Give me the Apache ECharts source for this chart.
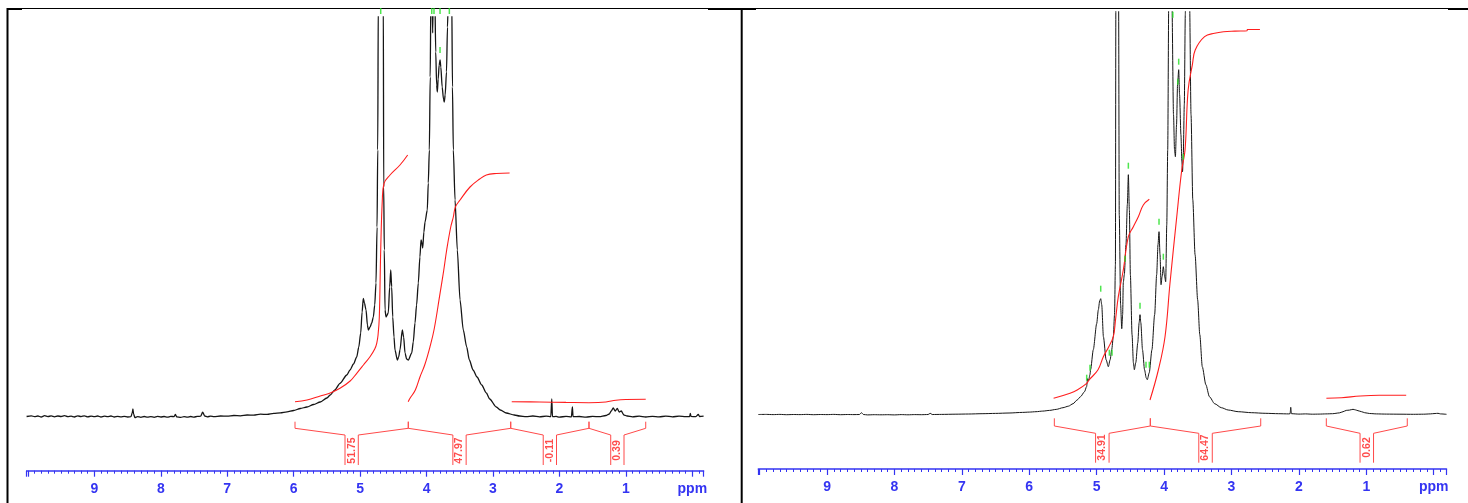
<!DOCTYPE html>
<html><head><meta charset="utf-8">
<script src="https://cdn.jsdelivr.net/npm/echarts@6/dist/echarts.min.js"></script>
<style>html,body{margin:0;padding:0;background:#fff}#c{width:1468px;height:503px}</style>
</head><body><div id="c"></div><script>
// ---------- DATA (ppm, intensity above baseline) ----------
const leftSpectrum = [
[10.02,0.5],[9.95,1.2],[9.9,0.3],[9.85,1],[9.8,0],[9.75,1.3],[9.7,0.4],[9.65,1.1],[9.6,0.2],[9.55,1],[9.5,0.5],[9.45,1.4],[9.4,0.3],[9.35,0.9],[9.3,0],[9.25,1.1],[9.2,0.4],[9.15,1.2],[9.1,0.2],[9.05,0.8],[9.0,0.3],[8.95,1],[8.9,0],[8.85,0.8],[8.8,0.3],[8.75,1],[8.7,0],[8.65,0.7],[8.6,0.1],[8.55,0.6],[8.5,0],[8.45,0.3],[8.43,4],[8.42,8],[8.41,3],[8.39,-0.5],[8.35,0.4],[8.3,-0.3],[8.25,0.5],[8.2,-0.2],[8.15,0.4],[8.1,-0.3],[8.05,0.6],[8.0,0],[7.95,0.5],[7.9,-0.2],[7.85,0.6],[7.8,0.4],[7.78,2.5],[7.76,0.2],[7.7,-0.4],[7.65,0.4],[7.6,-0.2],[7.55,0.5],[7.5,-0.1],[7.45,0.6],[7.4,0.8],[7.37,4.8],[7.34,1],[7.3,0.2],[7.25,0.8],[7.2,0.3],[7.1,1],[7.0,0.8],[6.9,1.5],[6.8,1.2],[6.7,2],[6.6,1.8],[6.5,2.8],[6.4,2.6],[6.3,3.6],[6.2,4.2],[6.1,5.2],[6.0,6.5],[5.9,8.5],[5.8,10],[5.7,12.5],[5.6,15],[5.5,19],[5.45,22],[5.38,27],[5.303,33.7],[5.2,42],[5.152,47],[5.1,53],[5.051,60],[5.02,70],[4.991,84],[4.97,105],[4.952,118.7],[4.935,114],[4.911,107],[4.89,92],[4.876,87],[4.85,90],[4.825,94],[4.801,100],[4.78,112],[4.761,134],[4.745,190],[4.735,267],[4.726,420],[4.69,2500],[4.651,420],[4.645,230],[4.636,167],[4.625,107],[4.61,100],[4.576,104],[4.555,130],[4.539,147],[4.525,130],[4.509,100],[4.49,80],[4.475,67],[4.44,57],[4.42,60],[4.40,67],[4.365,87],[4.345,80],[4.324,64],[4.3,58],[4.275,57],[4.223,64],[4.2,75],[4.174,94],[4.15,112],[4.124,134],[4.10,160],[4.083,177],[4.07,174],[4.058,169],[4.04,185],[4.023,195],[3.989,207],[3.974,234],[3.958,267],[3.945,340],[3.935,420],[3.925,520],[3.915,420],[3.908,384],[3.898,430],[3.885,520],[3.875,420],[3.862,365],[3.848,332],[3.838,325],[3.825,338],[3.81,352],[3.797,357],[3.785,350],[3.765,330],[3.745,318],[3.733,315],[3.72,322],[3.70,345],[3.685,390],[3.672,420],[3.645,2500],[3.621,420],[3.61,330],[3.597,267],[3.571,217],[3.537,167],[3.496,117],[3.447,87],[3.396,70],[3.356,57],[3.3,47],[3.24,40],[3.17,32],[3.1,24],[3.05,18],[2.95,10],[2.89,7],[2.8,4],[2.68,2],[2.6,1],[2.5,0.4],[2.4,1],[2.3,0.2],[2.2,0.8],[2.13,0.3],[2.115,18],[2.105,0.3],[2.05,0.6],[2.0,-0.2],[1.9,0.7],[1.82,0.1],[1.805,10],[1.795,0.3],[1.7,0.5],[1.6,-0.1],[1.5,0.6],[1.4,0.3],[1.3,1.5],[1.25,3],[1.22,6],[1.19,9],[1.16,6],[1.13,8.5],[1.1,5],[1.07,6],[1.03,2],[0.98,1],[0.9,0.2],[0.8,0.8],[0.7,0],[0.6,0.7],[0.5,0.1],[0.4,0.9],[0.3,0.2],[0.2,0.8],[0.1,0.3],[0.04,0.5],[0.03,3.5],[0.02,0.6],[-0.05,0.3],[-0.09,2.5],[-0.11,0.5],[-0.17,0.8]
];
const rightSpectrum = [
[10.02,0.2],[9.9,0.3],[9.8,0.1],[9.7,0.3],[9.6,0],[9.5,0.2],[9.4,0.1],[9.3,0.3],[9.2,0],[9.1,0.2],[9.0,0.1],[8.9,0.3],[8.8,0],[8.7,0.2],[8.6,0.1],[8.52,0.2],[8.49,2],[8.46,0.2],[8.4,-0.2],[8.3,0],[8.2,-0.1],[8.1,0],[8.0,-0.2],[7.9,0.1],[7.8,-0.1],[7.7,0.1],[7.6,0],[7.5,0.2],[7.47,1.4],[7.44,0.2],[7.3,0.3],[7.1,0.5],[6.9,0.7],[6.7,1],[6.5,1.3],[6.3,1.7],[6.1,2.3],[6.0,2.6],[5.9,3],[5.8,3.6],[5.7,4.3],[5.6,5.3],[5.5,7],[5.42,8.5],[5.35,11],[5.29,14.7],[5.24,18],[5.18,23],[5.15,28],[5.134,36],[5.12,34],[5.1,40],[5.09,45],[5.05,65],[5.0,91],[4.975,105],[4.955,114],[4.94,116],[4.925,110],[4.90,78],[4.86,55],[4.827,48],[4.80,55],[4.777,65],[4.753,78],[4.735,100],[4.722,150],[4.715,420],[4.695,2500],[4.675,420],[4.665,200],[4.645,110],[4.628,86],[4.615,100],[4.605,132],[4.59,140],[4.565,170],[4.545,210],[4.53,240],[4.515,205],[4.5,140],[4.475,80],[4.455,52],[4.441,45],[4.42,52],[4.39,72],[4.37,92],[4.357,100],[4.345,92],[4.32,65],[4.29,45],[4.265,37],[4.249,35],[4.22,42],[4.18,65],[4.14,100],[4.11,140],[4.09,170],[4.075,183],[4.06,160],[4.045,130],[4.03,138],[4.011,148],[3.995,140],[3.976,133],[3.96,190],[3.946,265],[3.93,420],[3.905,2000],[3.885,420],[3.86,300],[3.845,265],[3.832,258],[3.815,290],[3.80,330],[3.783,345],[3.77,320],[3.75,280],[3.735,252],[3.726,243],[3.715,260],[3.70,310],[3.685,400],[3.675,500],[3.65,2500],[3.623,420],[3.60,300],[3.574,215],[3.54,160],[3.502,115],[3.47,80],[3.433,48],[3.38,30],[3.327,18],[3.25,11],[3.15,7],[3.049,4.7],[2.9,3],[2.7,2],[2.5,1.4],[2.3,1],[2.15,0.8],[2.13,1],[2.121,7.4],[2.11,1],[2.0,0.6],[1.9,0.8],[1.8,0.5],[1.7,0.6],[1.6,0.8],[1.5,1],[1.4,1.8],[1.345,3],[1.297,4.3],[1.25,4.6],[1.197,5.4],[1.16,4.8],[1.123,4],[1.07,3],[1.024,2],[0.95,1.2],[0.85,0.8],[0.7,0.6],[0.5,0.5],[0.3,0.4],[0.15,0.5],[0.05,0.8],[-0.02,1.2],[-0.064,1.4],[-0.1,0.8],[-0.19,0.4]
];
// integral curves
const leftIntegral1 = [[5.98,15.3],[5.8,17],[5.6,21],[5.45,24],[5.303,28.7],[5.15,36],[5.051,43.7],[4.95,52],[4.851,60.3],[4.78,68],[4.75,73.7],[4.73,82],[4.711,100],[4.69,167],[4.666,217],[4.64,233.7],[4.55,242],[4.4,252],[4.284,262]];
const leftIntegral2 = [[4.276,15.3],[4.249,18.7],[4.169,27],[4.098,40.3],[4.028,52],[3.948,70.3],[3.885,88],[3.797,123.7],[3.743,146],[3.697,167],[3.636,190],[3.597,200],[3.566,210],[3.496,217],[3.346,230],[3.2,238],[3.1,242],[2.95,243.5],[2.75,244]];
const leftIntegral3 = [[2.718,15.3],[2.3,15],[1.9,14.6],[1.555,14.3]];
const leftIntegral4 = [[1.555,14.3],[1.3,15],[1.15,16.8],[1.0,17.5],[0.701,17.7]];
const rightIntegral1 = [[5.639,16.4],[5.395,21.4],[5.289,24.7],[5.148,31.4],[5.113,34.7],[4.98,45],[4.901,58],[4.82,68],[4.753,78],[4.72,95],[4.679,118],[4.605,144.7],[4.53,178],[4.456,188],[4.382,198],[4.308,209.7],[4.219,215.4]];
const rightIntegral2 = [[4.209,14.7],[4.085,44.7],[3.986,78],[3.912,131.7],[3.812,198],[3.738,244.7],[3.689,264.7],[3.643,324.7],[3.58,350],[3.538,364.7],[3.399,378],[3.25,381.5],[3.118,383],[2.95,383.6],[2.768,384],[2.765,385.2],[2.578,385.2]];
const rightIntegral3 = [[1.592,16.4],[1.368,17],[1.087,18.7],[0.808,19.4],[0.408,19.4]];
// integral regions [from ppm, to ppm] and values
const leftRegions = [[5.98,4.275],[4.275,2.733],[2.733,1.555],[1.555,0.701]];
const leftIntegralValues = ['51.75','47.97','-0.11','0.39'];
const rightRegions = [[5.628,4.204],[4.204,2.566],[1.593,0.392]];
const rightIntegralValues = ['34.91','64.47','0.62'];
// peak-pick markers
const leftPeakMarks = [[4.690,406],[3.922,406],[3.888,406],[3.797,406],[3.657,406],[3.797,367]];
const rightPeakMarks = [[3.87,400],[3.783,353],[3.796,333],[3.715,258],[4.53,249],[4.579,156],[4.075,193],[4.011,158],[4.94,126],[4.357,109],[4.812,62],[4.772,62],[4.268,50],[4.219,50],[5.148,37],[5.099,47]];
const axisMajorLabels = {10:'',9:'9',8:'8',7:'7',6:'6',5:'5',4:'4',3:'3',2:'2',1:'1',0:'ppm'};

// ---------- STYLE / LAYOUT ----------
const BLUE='#3434f2', RED='#ff1e1e', BRK='#ff4a4a', GREEN='#22e022';
const panels = [
  {grid:{left:26.6, top:17, width:677, height:453.7}, xmin:-0.17, xmax:10.02, ymin:-53.7, ymax:400,
   spec:leftSpectrum, specWidth:1.3, ints:[leftIntegral1,leftIntegral2,leftIntegral3,leftIntegral4],
   regions:leftRegions, vals:leftIntegralValues, marks:leftPeakMarks,
   br:{tt:-4.7, tb:-11.3, bt:-18, bb:-48, lab:-33.5}},
  {grid:{left:758.3, top:11.7, width:688.2, height:457.3}, xmin:-0.19, xmax:10.02, ymin:-54.3, ymax:403,
   spec:rightSpectrum, specWidth:1, ints:[rightIntegral1,rightIntegral2,rightIntegral3],
   regions:rightRegions, vals:rightIntegralValues, marks:rightPeakMarks,
   br:{tt:-3.6, tb:-11.3, bt:-18.6, bb:-48, lab:-32.8}}
];
const HW = 0.1;
const grids=[], xAxes=[], yAxes=[], series=[];
panels.forEach((p,i)=>{
  grids.push(Object.assign({containLabel:false}, p.grid));
  xAxes.push({type:'value', gridIndex:i, min:p.xmin, max:p.xmax, inverse:true, splitNumber:10,
    axisLine:{show:true,onZero:false,lineStyle:{color:BLUE,width:1.5}},
    axisTick:{show:true,length:6,lineStyle:{color:BLUE,width:1.2}},
    minorTick:{show:true,splitNumber:10,length:3,lineStyle:{color:BLUE,width:1}},
    splitLine:{show:false}, minorSplitLine:{show:false},
    axisLabel:{margin:11,color:BLUE,fontFamily:'Liberation Sans, Arial, sans-serif',fontWeight:'bold',fontSize:14,
      formatter:v=>{const r=Math.round(v); if(Math.abs(v-r)>1e-6) return ''; return axisMajorLabels[r]!==undefined?axisMajorLabels[r]:'';}}
  });
  yAxes.push({type:'value', gridIndex:i, min:p.ymin, max:p.ymax, show:false});
  series.push({type:'line', xAxisIndex:i, yAxisIndex:i, data:p.spec, showSymbol:false, symbol:'none',
    smooth:0.25, smoothMonotone:'x', clip:true, lineStyle:{color:'#151515',width:p.specWidth}, silent:true, z:3});
  p.ints.forEach(d=>series.push({type:'line', xAxisIndex:i, yAxisIndex:i, data:d, showSymbol:false, symbol:'none',
    smooth:0.4, clip:true, lineStyle:{color:RED,width:1.1}, silent:true, z:4}));
  p.regions.forEach((r,k)=>{
    const a=r[0], b=r[1], c=(a+b)/2, q=p.br;
    series.push({type:'line', xAxisIndex:i, yAxisIndex:i, showSymbol:false, symbol:'none', silent:true,
      data:[[a,q.tt],[a,q.tb],[c+HW,q.bt],[c+HW,q.bb]], lineStyle:{color:BRK,width:1}, z:4});
    series.push({type:'line', xAxisIndex:i, yAxisIndex:i, showSymbol:false, symbol:'none', silent:true,
      data:[[b,q.tt],[b,q.tb],[c-HW,q.bt],[c-HW,q.bb]], lineStyle:{color:BRK,width:1}, z:4});
    series.push({type:'scatter', xAxisIndex:i, yAxisIndex:i, symbolSize:0, silent:true,
      data:[[c,q.lab]], label:{show:true, position:'inside', rotate:90, formatter:()=>p.vals[k],
        color:RED, fontFamily:'Liberation Sans, Arial, sans-serif', fontWeight:'bold', fontSize:10.5}, z:5});
  });
  series.push({type:'scatter', xAxisIndex:i, yAxisIndex:i, data:p.marks, clip:false, symbol:'rect',
    symbolSize:[1.5,6], itemStyle:{color:GREEN}, silent:true, z:6});
});

const frame = [
  {type:'rect', shape:{x:7, y:8, width:1461, height:1}, style:{fill:'#000'}},
  {type:'rect', shape:{x:7, y:8, width:15, height:2}, style:{fill:'#000'}},
  {type:'rect', shape:{x:708, y:8, width:48, height:2}, style:{fill:'#000'}},
  {type:'rect', shape:{x:1448, y:8, width:20, height:2}, style:{fill:'#000'}},
  {type:'rect', shape:{x:6.5, y:8, width:2, height:495}, style:{fill:'#000'}},
  {type:'rect', shape:{x:740.7, y:9, width:2, height:494}, style:{fill:'#000'}}
];

const chart = echarts.init(document.getElementById('c'), null, {renderer:'canvas'});
chart.setOption({animation:false, backgroundColor:'#fff', grid:grids, xAxis:xAxes, yAxis:yAxes, series:series,
  graphic:{elements:frame}});
</script></body></html>
